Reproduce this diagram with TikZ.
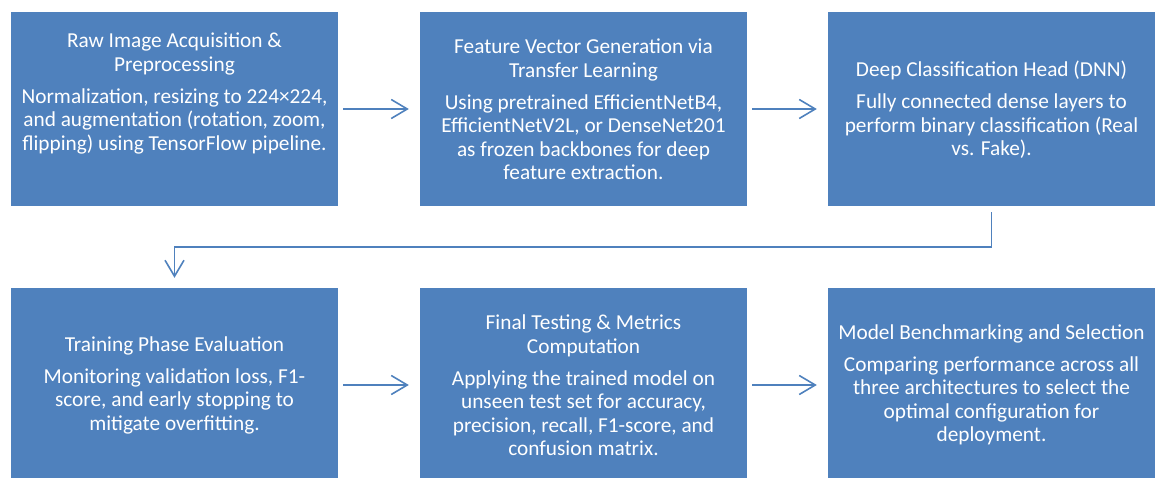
\documentclass[tikz,border=0pt]{standalone}
\usepackage{fontspec}
\setmainfont{Carlito}
\usetikzlibrary{arrows.meta}
\definecolor{boxblue}{HTML}{4F81BD}
\begin{document}
\begin{tikzpicture}[x=1pt,y=-1pt,
  stepbox/.style={fill=boxblue, draw=none, minimum width=327pt, minimum height=194pt, inner sep=0pt},
  boxtext/.style={text=white, align=center, inner sep=0pt, font=\fontsize{21.3}{23.5}\selectfont},
  flow/.style={draw=boxblue, line width=1.6pt, -{Straight Barb[length=16pt,width=19pt,line width=1.6pt]}}
]
\useasboundingbox (0,0) rectangle (1162,477);

% boxes, top row
\node[stepbox] (b1) at (174.5,109) {};
\node[stepbox] (b2) at (583.5,109) {};
\node[stepbox] (b3) at (991.5,109) {};
% boxes, bottom row
\node[stepbox] (b4) at (174.5,385) {};
\node[stepbox] (b5) at (583.5,385) {};
\node[stepbox] (b6) at (991.5,385) {};

% box texts
\node[boxtext] (t1) at (174.5,93.5) {Raw Image Acquisition \&\\Preprocessing\\[8.5pt]
  Normalization, resizing to 224×224,\\and augmentation (rotation, zoom,\\flipping) using TensorFlow pipeline.};
\node[boxtext] (t2) at (583.5,109.5) {Feature Vector Generation via\\Transfer Learning\\[8.5pt]
  Using pretrained EfficientNetB4,\\EfficientNetV2L, or DenseNet201\\as frozen backbones for deep\\feature extraction.};
\node[boxtext] (t3) at (991.5,110) {Deep Classification Head (DNN)\\[8.5pt]
  Fully connected dense layers to\\perform binary classification (Real\\vs. Fake).};
\node[boxtext] (t4) at (174.5,385) {Training Phase Evaluation\\[8.5pt]
  Monitoring validation loss, F1-\\score, and early stopping to\\mitigate overfitting.};
\node[boxtext] (t5) at (583.5,385.5) {Final Testing \& Metrics\\Computation\\[8.5pt]
  Applying the trained model on\\unseen test set for accuracy,\\precision, recall, F1-score, and\\confusion matrix.};
\node[boxtext] (t6) at (991.5,385) {Model Benchmarking and Selection\\[8.5pt]
  Comparing performance across all\\three architectures to select the\\optimal configuration for\\deployment.};

% connectors
\draw[flow, shorten <=5pt, shorten >=11pt] (b1) -- (b2);
\draw[flow, shorten <=5pt, shorten >=11pt] (b2) -- (b3);
\coordinate (turn) at (583.5,247);
\draw[flow, shorten <=6pt, shorten >=10pt] (b3.south) |- (turn) -| (b4.north);
\draw[flow, shorten <=5pt, shorten >=11pt] (b4) -- (b5);
\draw[flow, shorten <=5pt, shorten >=11pt] (b5) -- (b6);
\end{tikzpicture}
\end{document}
